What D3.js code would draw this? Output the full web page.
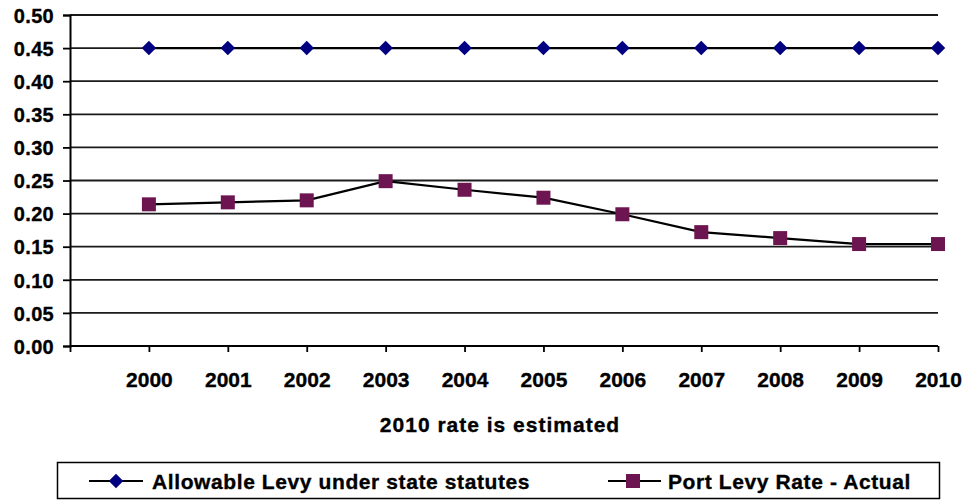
<!DOCTYPE html>
<html><head><meta charset="utf-8">
<script src="https://cdn.jsdelivr.net/npm/d3@7"></script>
<style>
body{margin:0;background:#fff;}
text{font-family:"Liberation Sans",Arial,sans-serif;font-weight:bold;fill:#000;stroke:#000;stroke-width:0.35px;}
</style></head><body>
<svg id="c" width="969" height="500"></svg>
<script>
const years = ["2000","2001","2002","2003","2004","2005","2006","2007","2008","2009","2010"];
const allowable = [0.45,0.45,0.45,0.45,0.45,0.45,0.45,0.45,0.45,0.45,0.45];
const portLevy = [0.214,0.217,0.220,0.249,0.236,0.224,0.199,0.172,0.163,0.154,0.154];
const yTicks = [0,0.05,0.10,0.15,0.20,0.25,0.30,0.35,0.40,0.45,0.50];
const seriesNames = ["Allowable Levy under state statutes","Port Levy Rate - Actual"];
const caption = "2010 rate is estimated";

const svg = d3.select("#c");
const x = d3.scaleLinear().domain([-1, years.length-1]).range([70, 938]);
const y = d3.scaleLinear().domain([0, 0.5]).range([346, 15]);

// gridlines
svg.append("g").selectAll("line").data(yTicks.filter(d=>d>0)).join("line")
  .attr("x1",70).attr("x2",938).attr("y1",d=>y(d)).attr("y2",d=>y(d))
  .attr("stroke","#1a1a1a").attr("stroke-width",1.8);

// y axis
const yAxis = svg.append("g").attr("transform","translate(70,0)")
  .call(d3.axisLeft(y).tickValues(yTicks).tickFormat(d3.format(".2f")).tickSize(7).tickPadding(9));
yAxis.select(".domain").attr("stroke","#000").attr("stroke-width",2);
yAxis.selectAll(".tick line").attr("stroke","#000").attr("stroke-width",1.8);
yAxis.selectAll("text").style("font-size","20px").style("letter-spacing","0.3px")
  .attr("font-family",null).attr("dy","0.36em");

// x axis
const xAxis = svg.append("g").attr("transform","translate(0,346)")
  .call(d3.axisBottom(x).tickValues(d3.range(-1, years.length)).tickSize(6)
    .tickFormat(i => i>=0 ? years[i] : "").tickPadding(20));
xAxis.select(".domain").attr("stroke","#000").attr("stroke-width",2).attr("d","M70,0H938");
xAxis.selectAll(".tick line").attr("stroke","#000").attr("stroke-width",1.8);
xAxis.selectAll("text").style("font-size","21px").attr("font-family",null);

// lines
const line = d3.line().x((d,i)=>x(i)).y(d=>y(d));
svg.append("path").datum(allowable).attr("d",line).attr("fill","none").attr("stroke","#000").attr("stroke-width",2.2);
svg.append("path").datum(portLevy).attr("d",line).attr("fill","none").attr("stroke","#000").attr("stroke-width",2.2);

const diamond = d3.symbol().type(d3.symbolSquare).size(105);
const square = d3.symbol().type(d3.symbolSquare).size(196);
svg.append("g").selectAll("path").data(allowable).join("path")
  .attr("d",diamond()).attr("transform",(d,i)=>`translate(${x(i)},${y(d)}) rotate(45)`)
  .attr("fill","#000080");
svg.append("g").selectAll("path").data(portLevy).join("path")
  .attr("d",square()).attr("transform",(d,i)=>`translate(${x(i)},${y(d)})`)
  .attr("fill","#6d1551");

// caption
svg.append("text").attr("x",500).attr("y",432).attr("text-anchor","middle")
  .style("font-size","21px").style("letter-spacing","1px").text(caption);

// legend
svg.append("rect").attr("x",57.5).attr("y",462.5).attr("width",882).attr("height",36)
  .attr("fill","#fff").attr("stroke","#000").attr("stroke-width",1.5);
const leg = [{lx1:89,lx2:143,mx:116,tx:152,col:"#000080",shape:"d"},
             {lx1:608,lx2:661,mx:633,tx:668,col:"#6d1551",shape:"s"}];
leg.forEach((l,k)=>{
  svg.append("line").attr("x1",l.lx1).attr("x2",l.lx2).attr("y1",481).attr("y2",481)
    .attr("stroke","#000").attr("stroke-width",2);
  svg.append("path").attr("d", l.shape==="d" ? diamond() : square())
    .attr("transform",`translate(${l.mx},481)` + (l.shape==="d"?" rotate(45)":""))
    .attr("fill",l.col);
  svg.append("text").attr("x",l.tx).attr("y",488.5).style("font-size","21px")
    .style("letter-spacing","0.6px").text(seriesNames[k]);
});
</script></body></html>
